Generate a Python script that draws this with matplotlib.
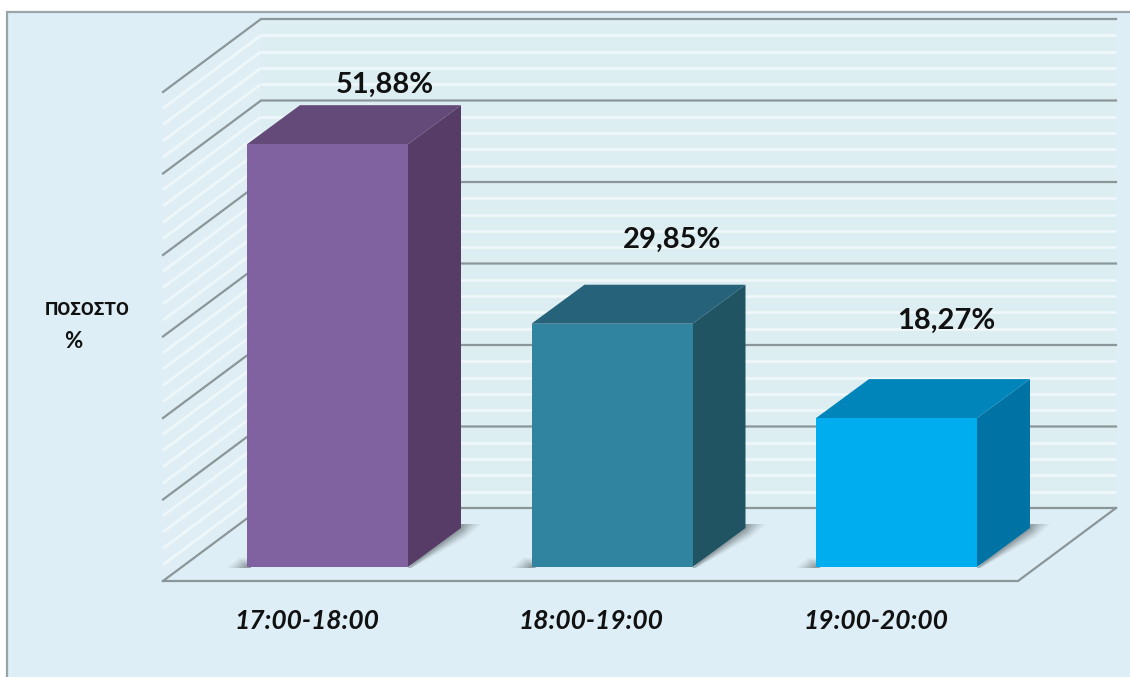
import matplotlib
matplotlib.use('Agg')
import matplotlib.pyplot as plt
import numpy as np
from matplotlib.patches import Polygon, Rectangle

plt.rcParams['font.family'] = ['Lato', 'Open Sans', 'DejaVu Sans']

categories = ['17:00-18:00', '18:00-19:00', '19:00-20:00']
values = [51.88, 29.85, 18.27]
value_labels = ['51,88%', '29,85%', '18,27%']
front_colors = ['#8062a0', '#31849f', '#00aeef']
top_colors = ['#644a78', '#26627a', '#0085bb']
side_colors = ['#573c68', '#215463', '#0072a3']
grid_values = [0, 10, 20, 30, 40, 50, 60]
stripe_values = [v for v in range(2, 60, 2) if v % 10 != 0]

# scales: one category = 284.5 px, 1 % = 8.15 px
W, H = 1130, 677
PX = 284.5
PY = 8.15
x0_px, y0_px = 327.5, 567


def dx(px):
    return px / PX


def dy(px):
    return px / PY


fig = plt.figure(figsize=(W / 100, H / 100), dpi=100, facecolor='white')
ax = fig.add_axes([0, 0, 1, 1])
ax.set_xlim(-x0_px / PX, (W - x0_px) / PX)
ax.set_ylim(-(H - y0_px) / PY, y0_px / PY)
ax.axis('off')

# panel, runs off the right and bottom edges
ax.add_patch(Rectangle((dx(7 - x0_px), dy(-160)), dx(1200), dy(715),
                       fc='#deeef6', ec='#9aa5a8', lw=1.6, zorder=0))

# chart box: floor front corners and depth of the walls
fl_x0, fl_x1 = dx(163 - x0_px), dx(1018 - x0_px)
fl_y = dy(-14)
wall_dx, wall_dy = dx(98), dy(73)
back_y = fl_y + wall_dy
back_x0 = fl_x0 + wall_dx
back_x1 = fl_x1 + wall_dx

# stripes on the walls
ax.add_patch(Rectangle((back_x0, back_y), back_x1 - back_x0, 60, fc='#dceef2', ec='none', zorder=1))
ax.add_patch(Polygon([(fl_x0, fl_y), (back_x0, back_y), (back_x0, back_y + 60),
                      (fl_x0, fl_y + 60)], fc='#deeef4', ec='none', zorder=1))
for v in stripe_values:
    ax.plot([fl_x0, back_x0], [fl_y + v, back_y + v], color='#edf6f9', lw=2.2, zorder=2,
            solid_capstyle='butt')
    ax.plot([back_x0, back_x1], [back_y + v, back_y + v], color='#f1f8fb', lw=1.8, zorder=2,
            solid_capstyle='butt')

# grid lines
for v in grid_values:
    ax.plot([fl_x0, back_x0, back_x1], [fl_y + v, back_y + v, back_y + v],
            color='#8b9699', lw=1.6, zorder=3, solid_joinstyle='miter')
ax.plot([fl_x0, fl_x1, back_x1], [fl_y, fl_y, back_y], color='#8b9699', lw=1.6, zorder=3,
        solid_joinstyle='miter')

# bars
bar_w = dx(161)
bar_dx, bar_dy = dx(53), dy(39)
for i, val in enumerate(values):
    xl = i - bar_w / 2
    xr = i + bar_w / 2
    # soft shadow on the floor, left of the front and right of the side
    for k, a in zip([20, 16, 12, 8, 4], [0.08, 0.12, 0.16, 0.2, 0.24]):
        ax.add_patch(Polygon([(xl - dx(k), dy(-1)), (xl - dx(k * 0.4), dy(k * 0.45)), (xl + dx(4), dy(k * 0.45)),
                              (xl + dx(4), dy(-1))],
                             fc='#5f6b6e', ec='none', alpha=a, zorder=4))
        ax.add_patch(Polygon([(xr, dy(-1)), (xr + bar_dx - dx(4), bar_dy + dy(4)),
                              (xr + bar_dx + dx(k), bar_dy + dy(4)),
                              (xr + bar_dx + dx(k * 0.3), bar_dy - dy(k * 0.45)), (xr + dx(k * 0.2), dy(-1))],
                             fc='#5f6b6e', ec='none', alpha=a, zorder=4))
    ax.add_patch(Polygon([(xr, 0), (xr + bar_dx, bar_dy), (xr + bar_dx, val + bar_dy), (xr, val)],
                         fc=side_colors[i], ec='none', zorder=5))
    ax.add_patch(Polygon([(xl, val), (xr, val), (xr + bar_dx, val + bar_dy), (xl + bar_dx, val + bar_dy)],
                         fc=top_colors[i], ec='none', zorder=5))
    ax.add_patch(Rectangle((xl, 0), bar_w, val, fc=front_colors[i], ec='none', zorder=6))

# texts
label_px = [(385, 85), (672, 240), (946, 321)]
for lab, (px, py) in zip(value_labels, label_px):
    ax.text(dx(px - x0_px), dy(y0_px - py), lab, ha='center', va='center',
            fontsize=21, fontweight='bold', color='#111111', zorder=8)
for i, lab in enumerate(categories):
    ax.text(i - dx(21), dy(y0_px - 621), lab, ha='center', va='center',
            fontsize=19, fontweight='bold', fontstyle='italic', color='#111111', zorder=8)
ax.text(dx(87 - x0_px), dy(y0_px - 310), 'ΠΟΣΟΣΤΟ', ha='center', va='center',
        fontsize=13.5, fontweight='bold', color='#111111', family=['Roboto', 'Liberation Sans', 'DejaVu Sans'])
ax.text(dx(73 - x0_px), dy(y0_px - 342), '%', ha='center', va='center',
        fontsize=16, fontweight='bold', color='#111111')

fig.savefig('out.png', dpi=100)
